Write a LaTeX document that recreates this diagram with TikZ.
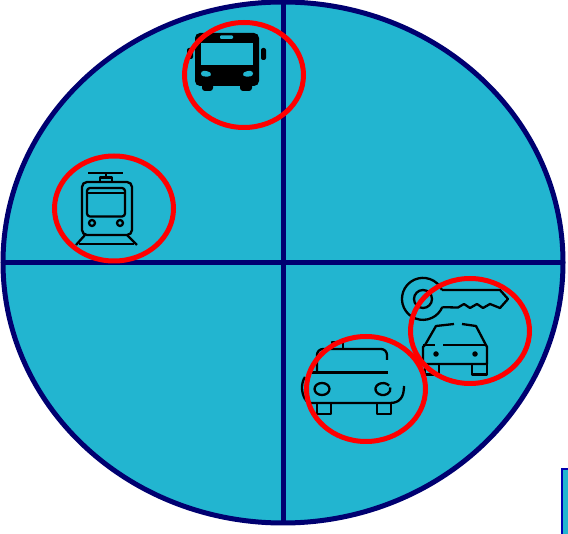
\documentclass[tikz,border=0pt]{standalone}
\usepackage{tikz}
\usetikzlibrary{shapes.geometric}
\definecolor{discfill}{HTML}{22B5D0}
\definecolor{discline}{HTML}{000070}
\tikzset{
  disc/.style={ellipse, draw=discline, fill=discfill, line width=5pt, minimum width=560pt, minimum height=521pt, inner sep=0pt, outer sep=0pt},
  axis/.style={draw=discline, line width=5pt},
  ring/.style={ellipse, draw=red, line width=5pt, minimum width=119pt, minimum height=105pt, inner sep=0pt, outer sep=0pt},
  solid icon/.style={fill=black},
  hole/.style={fill=discfill},
  icon/.style={draw=black, line width=2.3pt, line join=round},
  lamp/.style={circle, fill=black, minimum size=5.5pt, inner sep=0pt},
  nextbox/.style={draw=blue!70!black, fill=discfill, line width=2pt}
}
\begin{document}
\begin{tikzpicture}[x=1pt,y=-1pt]
\useasboundingbox (0,0) rectangle (568,534);
\node[disc] (disc) at (283,262.5) {};
\draw[axis] (disc.north) -- (disc.south);
\draw[axis] (disc.west) -- (disc.east);
\draw[nextbox] (572,540) -- (562,540) -- (562,469.5) -- (572,469.5);

\fill[solid icon, rounded corners=5pt] (195,33) rectangle (259,86);
\fill[solid icon, rounded corners=2pt] (187,48) rectangle (193,59);
\fill[solid icon, rounded corners=2pt] (261,48) rectangle (266,60);
\fill[solid icon, rounded corners=3pt] (202,82) rectangle (213,91);
\fill[solid icon, rounded corners=3pt] (240,82) rectangle (252,91);
\fill[hole] (200.5,43) rectangle (252.5,65);
\fill[hole, rounded corners=1pt] (220,35.5) rectangle (233,39);
\fill[hole, rounded corners=2.5pt] (201,71) -- (208,71) -- (212,74) -- (209,77) -- (201,76) -- cycle;
\fill[hole, rounded corners=2.5pt] (253,71) -- (246,71) -- (242,74) -- (245,77) -- (253,76) -- cycle;

\draw[icon] (88,173) -- (123,173);
\draw[icon] (106,173) -- (106,178);
\draw[icon] (100,182) -- (100,177.5) -- (112,177.5) -- (112,182);
\draw[icon, rounded corners=5pt] (82,235) rectangle (132,182);
\draw[icon, rounded corners=3pt] (87,188) rectangle (125,216.5);
\draw[icon] (87,193) -- (125,193);
\draw[icon] (92,223) circle[radius=3pt];
\draw[icon] (120,223) circle[radius=3pt];
\draw[icon] (85,235) -- (76,245);
\draw[icon] (127,235) -- (137,245);
\draw[icon] (79,244) -- (134,244);

\draw[icon] (423,299) circle[radius=9pt];
\draw[icon] (442,290) arc[start angle=25, end angle=337, radius=21pt];
\draw[icon] (442,290) -- (500,290) -- (508,299) -- (500,308) -- (490,304) -- (483,308) -- (477,304) -- (470,308) -- (464,304) -- (458,307.5) -- (442.3,307.2);
\draw[icon] (454,324) -- (436,326) -- (425,345) -- (423,347) -- (423,364) -- (487,364) -- (487,347) -- (476,326) -- (462,324);
\draw[icon] (423,345) -- (435,345);
\draw[icon] (443,345) -- (487,345);
\node[lamp] (keylampa) at (436,354) {};
\node[lamp] (keylampb) at (475,354) {};
\draw[icon] (425,364) -- (425,374.5) -- (439,374.5) -- (439,364);
\draw[icon] (472,364) -- (472,374.5) -- (487,374.5) -- (487,364);

\draw[icon] (332,349) -- (332,342) -- (343,342) -- (343,349);
\draw[icon, rounded corners=6pt] (317,372) -- (317,349) -- (387,349) -- (387,360);
\draw[icon] (312,372.5) -- (388,372.5);
\draw[icon] (305,377) .. controls (301,383) and (301,392) .. (305,399);
\draw[icon] (322,389) ellipse[x radius=7.5pt, y radius=6pt];
\draw[icon] (389.1,385.6) arc[start angle=35, end angle=375, x radius=7.5pt, y radius=6pt];
\draw[icon] (305,399) .. controls (306,402) and (308,403) .. (312,403) -- (390,403) .. controls (400,403) and (404,397) .. (404,386);
\draw[icon] (317,404) -- (317,414) -- (331,414) -- (331,404);
\draw[icon] (377,404) -- (377,414) -- (391,414) -- (391,404);

\node[ring] (busring) at (244,75) {};
\node[ring] (trainring) at (114,208.5) {};
\node[ring] (keyring) at (470,331) {};
\node[ring] (taxiring) at (366,389) {};
\end{tikzpicture}
\end{document}
